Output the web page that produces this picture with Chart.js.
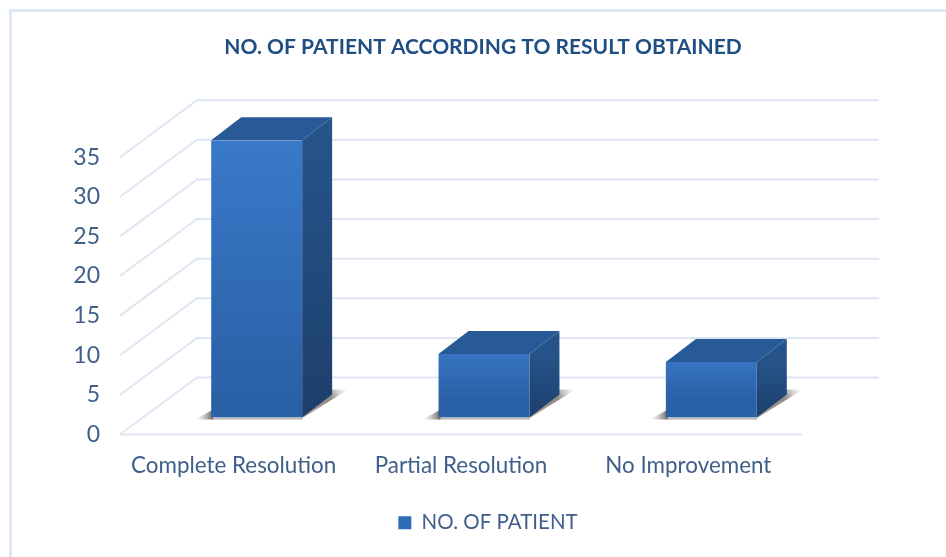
<!DOCTYPE html>
<html lang="en">
<head>
  <meta charset="UTF-8" />
  <title>No. of patient according to result obtained</title>
  <script src="https://cdn.jsdelivr.net/npm/chart.js"></script>
  <style>
    html, body { margin: 0; padding: 0; background: #fff; }
    #wrap { width: 946px; height: 557px; position: relative; overflow: hidden; }
    #frame { position: absolute; left: 9px; top: 9px; right: -5px; bottom: -5px; border: 3px solid #dfe7f4; pointer-events: none; }
    canvas { display: block; }
  </style>
</head>
<body>
  <div id="wrap">
    <canvas id="resultChart" width="946" height="557"></canvas>
    <div id="frame"></div>
  </div>
  <script>
    const categories = ["Complete Resolution", "Partial Resolution", "No Improvement"];
    const patientCounts = [35, 8, 7];
    const yTicks = [0, 5, 10, 15, 20, 25, 30, 35];
    const seriesName = "NO. OF PATIENT";
    const chartTitle = "NO. OF PATIENT ACCORDING TO RESULT OBTAINED";

    // 3D look: how far the back wall and the bars sit from the front plane
    const wallDx = 77, wallDy = -57;
    const barDx = 23, barDy = -17;
    const sideDx = 30, sideDy = -23;
    const gridColor = "#dde6f2";

    function faceGradient(ctx, top, bottom, c1, c2) {
      const g = ctx.createLinearGradient(0, top, 0, bottom);
      g.addColorStop(0, c1);
      g.addColorStop(1, c2);
      return g;
    }

    const frame3d = {
      id: "frame3d",
      afterLayout(chart) {
        // title and legend are centred on the whole picture, not on the plot
        chart.titleBlock.left += 82;
        chart.titleBlock.right += 82;
        chart.legend.left += 87;
        chart.legend.right += 87;
        chart.legend.top -= 14;
        chart.legend.bottom -= 14;
      },
      beforeDatasetsDraw(chart) {
        const ctx = chart.ctx, y = chart.scales.y, area = chart.chartArea;
        ctx.save();
        ctx.strokeStyle = gridColor;
        ctx.lineWidth = 2;
        yTicks.forEach(v => {
          const py = y.getPixelForValue(v);
          ctx.beginPath();
          ctx.moveTo(area.left, py);
          ctx.lineTo(area.left + wallDx, py + wallDy);
          ctx.lineTo(area.right + wallDx, py + wallDy);
          ctx.stroke();
        });
        ctx.beginPath();
        ctx.moveTo(area.left, y.getPixelForValue(0));
        ctx.lineTo(area.right, y.getPixelForValue(0));
        ctx.stroke();
        ctx.restore();
      },
      beforeDatasetDraw(chart, args) {
        const ctx = chart.ctx;
        const bars = chart.getDatasetMeta(args.index).data;
        ctx.save();
        bars.forEach(bar => {
          const l = bar.x - bar.width / 2 + barDx, r = bar.x + bar.width / 2 + barDx;
          const t = bar.y + barDy, b = bar.base + barDy;

          // floor shadow
          const sh = ctx.createLinearGradient(r, b, r + sideDx + 15, b + sideDy - 5);
          sh.addColorStop(0, "rgba(170,145,120,0.85)");
          sh.addColorStop(0.65, "rgba(115,110,105,0.8)");
          sh.addColorStop(1, "rgba(170,170,170,0)");
          ctx.fillStyle = sh;
          ctx.beginPath();
          ctx.moveTo(r - 2, b + 2);
          ctx.lineTo(r + sideDx + 16, b + sideDy - 5);
          ctx.lineTo(r + sideDx, b + sideDy - 5);
          ctx.closePath();
          ctx.fill();
          const shl = ctx.createLinearGradient(l, b, l - 16, b);
          shl.addColorStop(0, "rgba(110,100,90,0.85)");
          shl.addColorStop(1, "rgba(170,170,170,0)");
          ctx.fillStyle = shl;
          ctx.beginPath();
          ctx.moveTo(l + 2, b - 8);
          ctx.lineTo(l + 2, b + 2);
          ctx.lineTo(l - 16, b + 2);
          ctx.closePath();
          ctx.fill();
          ctx.fillStyle = "rgba(130,130,135,0.6)";
          ctx.fillRect(l, b, r - l, 2);

          // top face
          ctx.fillStyle = "#275a96";
          ctx.beginPath();
          ctx.moveTo(l, t);
          ctx.lineTo(l + sideDx, t + sideDy);
          ctx.lineTo(r + sideDx, t + sideDy);
          ctx.lineTo(r, t);
          ctx.closePath();
          ctx.fill();

          // side face
          ctx.fillStyle = faceGradient(ctx, t, b, "#265389", "#1d3f6c");
          ctx.beginPath();
          ctx.moveTo(r, t);
          ctx.lineTo(r + sideDx, t + sideDy);
          ctx.lineTo(r + sideDx, b + sideDy);
          ctx.lineTo(r, b);
          ctx.closePath();
          ctx.fill();
        });
        ctx.restore();
        // the bars themselves are the library's, drawn on the front of the box
        ctx.save();
        ctx.translate(barDx, barDy);
      },
      afterDatasetDraw(chart) {
        chart.ctx.restore();
      }
    };

    new Chart(document.getElementById("resultChart"), {
      type: "bar",
      data: {
        labels: categories,
        datasets: [{
          label: seriesName,
          data: patientCounts,
          barPercentage: 0.4,
          categoryPercentage: 1,
          backgroundColor(c) {
            const y = c.chart.scales.y;
            if (!y || c.dataIndex === undefined) return "#2f6cb5";
            const top = y.getPixelForValue(patientCounts[c.dataIndex]) + barDy;
            return faceGradient(c.chart.ctx, top, y.getPixelForValue(0) + barDy, "#3b7bcb", "#2a60a6");
          }
        }]
      },
      options: {
        responsive: false,
        animation: false,
        layout: { padding: { left: 0, right: 144, top: 0, bottom: 0 } },
        scales: {
          x: {
            grid: { display: false },
            border: { display: false },
            afterFit: s => { s.height = 76; },
            ticks: { color: "#3f5f8a", font: { family: "Lato", size: 22.4 }, padding: 10, maxRotation: 0 }
          },
          y: {
            min: 0,
            max: 35,
            afterFit: s => { s.width = 120; },
            grid: { display: false },
            border: { display: false },
            ticks: { stepSize: 5, color: "#3f5f8a", font: { family: "Lato", size: 23 }, padding: 12 }
          }
        },
        plugins: {
          title: {
            display: true,
            text: chartTitle,
            color: "#1f4e82",
            font: { family: "Lato", size: 21, weight: "bold" },
            padding: { top: 35, bottom: 97 }
          },
          legend: {
            position: "bottom",
            labels: {
              color: "#3f5f8a",
              font: { family: "Lato", size: 20.5 },
              boxWidth: 13,
              boxHeight: 13,
              padding: 16,
              generateLabels: () => [{ text: seriesName, fontColor: "#3f5f8a", fillStyle: "#2f6cb5", strokeStyle: "#2f6cb5", lineWidth: 0, datasetIndex: 0 }]
            }
          },
          tooltip: { enabled: false }
        }
      },
      plugins: [frame3d]
    });
  </script>
</body>
</html>
